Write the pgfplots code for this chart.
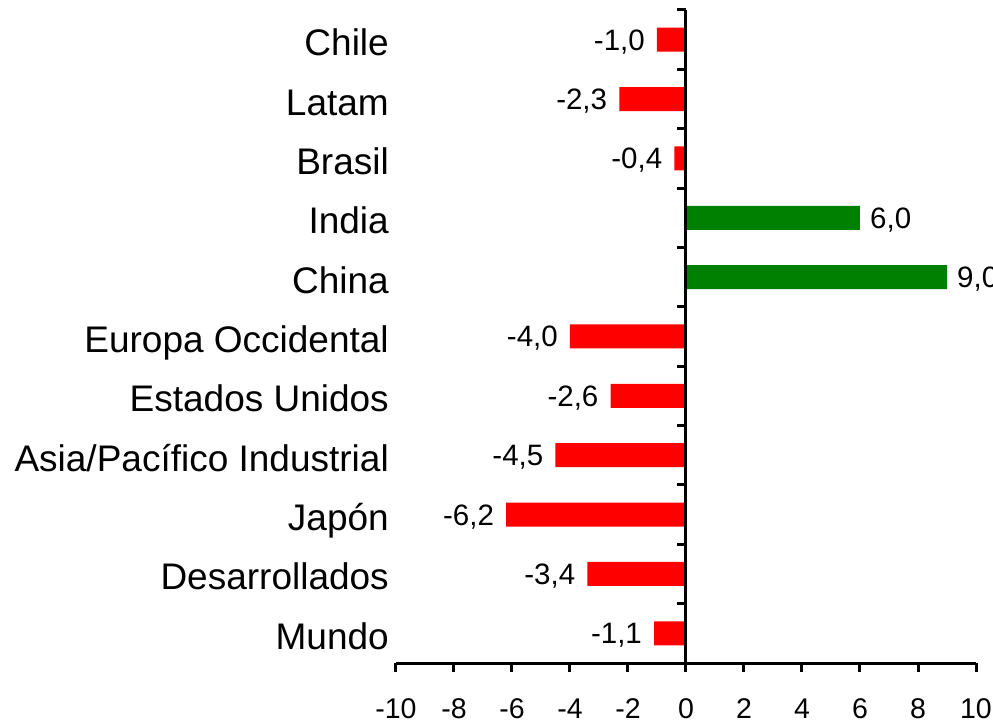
\documentclass[border=0pt]{standalone}
\usepackage{fontspec}
\setmainfont{Liberation Sans}
\usepackage{pgfplots}
\pgfplotsset{compat=1.18}
\usepackage{pgfplotstable}
\definecolor{barred}{RGB}{255,0,0}
\definecolor{bargreen}{RGB}{0,128,0}

\pgfplotstableread{
y v
0 -1.1
1 -3.4
2 -6.2
3 -4.5
4 -2.6
5 -4.0
8 -0.4
9 -2.3
10 -1.0
}\negdata
\pgfplotstableread{
y v
6 9.0
7 6.0
}\posdata

\begin{document}
\begin{tikzpicture}
\useasboundingbox (-396pt,-60pt) rectangle (597pt,663pt);
\begin{axis}[
  at={(0pt,0pt)}, anchor=south west,
  scale only axis, width=580pt, height=653pt,
  xmin=-10, xmax=10, ymin=-0.5, ymax=10.5,
  clip=false,
  axis x line*=bottom, axis y line*=left,
  y axis line style={draw=none},
  x axis line style={line width=3pt, -},
  xtick={-10,-8,...,10},
  xticklabels={-10,-8,-6,-4,-2,0,2,4,6,8,10},
  xtick style={line width=3pt, black},
  tick align=outside,
  major tick length=9pt,
  xticklabel style={font=\fontsize{28.5}{32}\selectfont, anchor=base, inner sep=0pt, yshift=-46pt},
  ytick={0,...,10},
  yticklabels={Mundo, Desarrollados\hspace{5pt}, Japón, Asia/Pacífico Industrial, Estados Unidos, Europa Occidental\hspace{5pt}, China, India, Brasil, Latam, Chile},
  ytick style={draw=none},
  yticklabel style={font=\fontsize{37}{40}\selectfont, anchor=base east, inner sep=0pt, xshift=2pt, yshift=-16pt},
  xbar, bar width=24pt, bar shift=0pt,
  point meta=x,
  nodes near coords={\pgfmathprintnumber[fixed,fixed zerofill,precision=1,use comma,assume math mode=true]{\pgfplotspointmeta}},
]
\addplot[xbar, fill=barred, draw=none, bar width=24pt, bar shift=0pt,
  every node near coord/.append style={font=\fontsize{29.5}{32}\selectfont, anchor=base east, inner sep=0pt, xshift=-12pt, yshift=-10.5pt, text=black}]
  table[x=v, y=y] {\negdata};
\addplot[xbar, fill=bargreen, draw=none, bar width=24pt, bar shift=0pt,
  every node near coord/.append style={font=\fontsize{29.5}{32}\selectfont, anchor=base west, inner sep=0pt, xshift=10pt, yshift=-10.5pt, text=black}]
  table[x=v, y=y] {\posdata};
\draw[line width=3pt] (axis cs:0,-0.5) -- (axis cs:0,10.5);
\pgfplotsinvokeforeach{-0.5,0.5,...,10.5}{\draw[line width=3pt] (axis cs:0,#1) -- ++(-9pt,0pt);}
\end{axis}
\end{tikzpicture}
\end{document}
